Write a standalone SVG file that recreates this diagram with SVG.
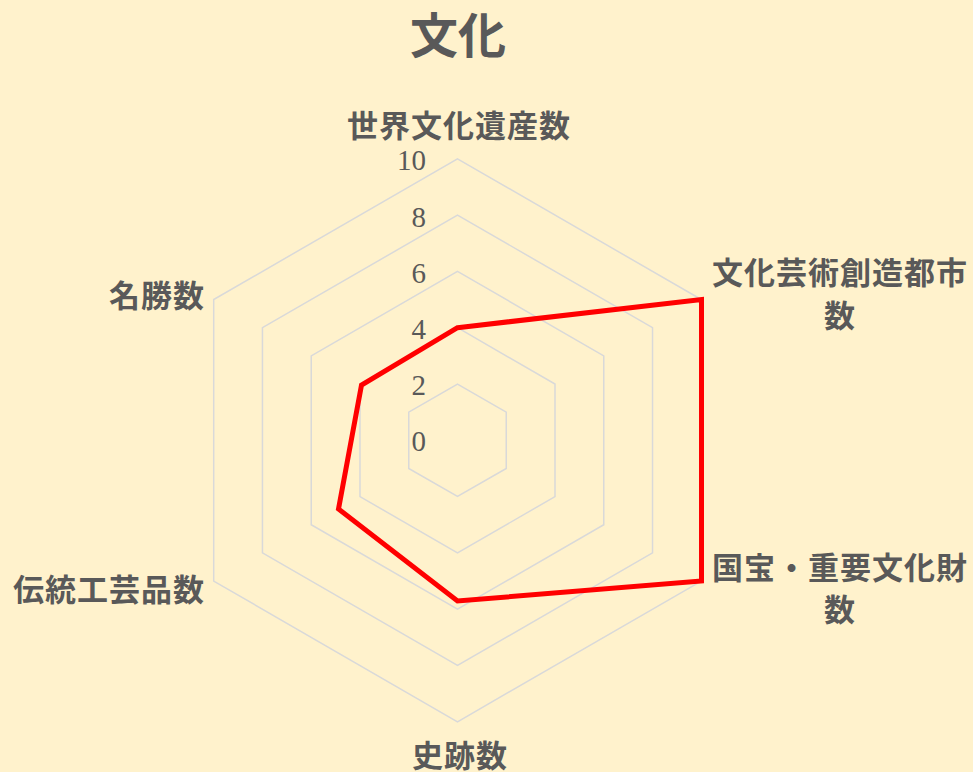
<svg xmlns="http://www.w3.org/2000/svg" width="973" height="772" viewBox="0 0 973 772">
<style>
.grid{fill:none;stroke:#D9D9D9;stroke-width:1.5}
.lbl{font-family:"Noto Sans CJK JP","Noto Sans CJK SC",sans-serif;font-weight:bold;font-size:31px;letter-spacing:1px;fill:#595959}
.num{font-family:"Liberation Serif",serif;font-size:29px;fill:#595959;text-anchor:end}
.data{fill:none;stroke:#FF0000;stroke-width:5;stroke-linejoin:miter}
</style>
<rect width="973" height="772" fill="#FFF2CC"/>
<text x="458" y="53" text-anchor="middle" style="font-family:'Noto Sans CJK JP','Noto Sans CJK SC',sans-serif;font-weight:bold;font-size:48px;fill:#595959">文化</text>
<g id="grid">
<polygon class="grid" points="457.5,384.15 506.26,412.15 506.26,468.45 457.5,496.45 408.74,468.45 408.74,412.15"/>
<polygon class="grid" points="457.5,327.7 555.01,384 555.01,496.6 457.5,552.9 359.99,496.6 359.99,384"/>
<polygon class="grid" points="457.5,271.4 603.77,355.85 603.77,524.75 457.5,609.2 311.23,524.75 311.23,355.85"/>
<polygon class="grid" points="457.5,215.1 652.53,327.7 652.53,552.9 457.5,665.5 262.47,552.9 262.47,327.7"/>
<polygon class="grid" points="457.5,158.8 701.29,299.55 701.29,581.05 457.5,721.8 213.71,581.05 213.71,299.55"/>
</g>
<g id="axis-values">
<text class="num" x="426" y="170.3">10</text>
<text class="num" x="426" y="226.5">8</text>
<text class="num" x="426" y="282.7">6</text>
<text class="num" x="426" y="338.9">4</text>
<text class="num" x="426" y="395">2</text>
<text class="num" x="426" y="451.2">0</text>
</g>
<g id="series">
<polygon class="data" points="457.5,327.7 701.5,299.5 701.5,581 457.5,601 338.5,509 361.5,385"/>
</g>
<g id="label-top"><text class="lbl" x="459" y="137" text-anchor="middle">世界文化遺産数</text></g>
<g id="label-upper-right"><text class="lbl" text-anchor="middle"><tspan x="840" y="284">文化芸術創造都市</tspan><tspan x="840" y="327">数</tspan></text></g>
<g id="label-lower-right"><text class="lbl" text-anchor="middle"><tspan x="840" y="579">国宝・重要文化財</tspan><tspan x="840" y="621">数</tspan></text></g>
<g id="label-bottom"><text class="lbl" x="460" y="767" text-anchor="middle">史跡数</text></g>
<g id="label-lower-left"><text class="lbl" x="205" y="601" text-anchor="end">伝統工芸品数</text></g>
<g id="label-upper-left"><text class="lbl" x="205" y="307" text-anchor="end">名勝数</text></g>
</svg>
